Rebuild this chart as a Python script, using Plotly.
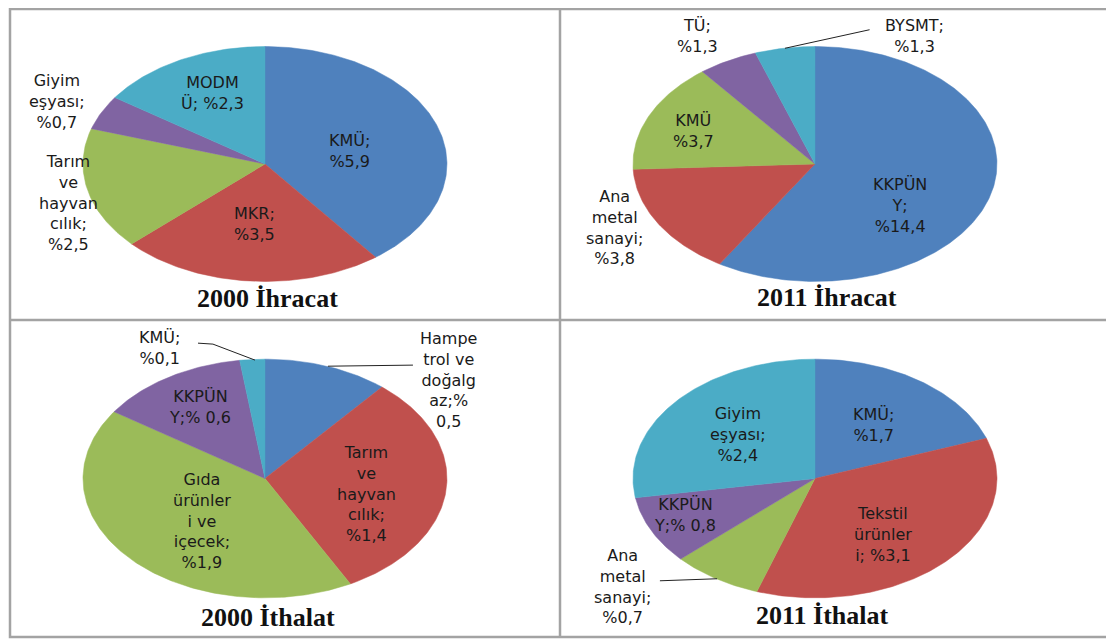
import numpy as np
import plotly.graph_objects as go

# The page body keeps its default 8px margin, so the figure starts at (8, 8)
# of the 1114x639 window; all pixel positions below are window positions.
OFF = 8
W, H = 1114 - OFF, 639 - OFF
COLORS = ["#4F81BD", "#C0504D", "#9BBB59", "#8064A2", "#4BACC6"]
BORDER = "#a3a3a3"
INK = "#1a1a1a"
FONT = "DejaVu Sans"

EXP2000_NAMES = ["KMÜ", "MKR", "Tarım ve hayvancılık", "Giyim eşyası", "MODMÜ"]
EXP2000_VALUES = [5.9, 3.5, 2.5, 0.7, 2.3]
EXP2000_TEXT = ["KMÜ;<br>%5,9", "MKR;<br>%3,5", "Tarım<br>ve<br>hayvan<br>cılık;<br>%2,5",
                "Giyim<br>eşyası;<br>%0,7", "MODM<br>Ü; %2,3"]

EXP2011_NAMES = ["KKPÜNY", "Ana metal sanayi", "KMÜ", "TÜ", "BYSMT"]
EXP2011_VALUES = [14.4, 3.8, 3.7, 1.3, 1.3]
EXP2011_TEXT = ["KKPÜN<br>Y;<br>%14,4", "Ana<br>metal<br>sanayi;<br>%3,8", "KMÜ<br>%3,7",
                "TÜ;<br>%1,3", "BYSMT;<br>%1,3"]

IMP2000_NAMES = ["Hampetrol ve doğalgaz", "Tarım ve hayvancılık", "Gıda ürünleri ve içecek",
                 "KKPÜNY", "KMÜ"]
IMP2000_VALUES = [0.5, 1.4, 1.9, 0.6, 0.1]
IMP2000_TEXT = ["Hampe<br>trol ve<br>doğalg<br>az;%<br>0,5", "Tarım<br>ve<br>hayvan<br>cılık;<br>%1,4",
                "Gıda<br>ürünler<br>i ve<br>içecek;<br>%1,9", "KKPÜN<br>Y;% 0,6", "KMÜ;<br>%0,1"]

IMP2011_NAMES = ["KMÜ", "Tekstil ürünleri", "Ana metal sanayi", "KKPÜNY", "Giyim eşyası"]
IMP2011_VALUES = [1.7, 3.1, 0.7, 0.8, 2.4]
IMP2011_TEXT = ["KMÜ;<br>%1,7", "Tekstil<br>ürünler<br>i; %3,1", "Ana<br>metal<br>sanayi;<br>%0,7",
                "KKPÜN<br>Y;% 0,8", "Giyim<br>eşyası;<br>%2,4"]

TITLES = ["2000 İhracat", "2011 İhracat", "2000 İthalat", "2011 İthalat"]

# --- layout: label anchors and leader lines (axis units, pie radius = 1) ---
LABEL_POS = [
    [(0.467, 0.109), (-0.055, -0.513), (-1.077, -0.336), (-1.143, 0.529), (-0.291, 0.605)],
    [(0.467, -0.353), (-1.104, -0.538), (-0.670, 0.277), (-0.648, 1.092), (0.549, 1.092)],
    [(1.011, 0.824), (0.560, -0.126), (-0.346, -0.353), (-0.357, 0.597), (-0.577, 1.092)],
    [(0.319, 0.445), (0.374, -0.471), (-1.055, -0.908), (-0.714, -0.303), (-0.423, 0.370)],
]
LEADERS = [
    [],
    [[(0.30, 1.143), (-0.165, 0.985)]],
    [[(-0.368, 1.134), (-0.286, 1.126), (-0.055, 0.992)], [(0.813, 0.950), (0.346, 0.941)]],
    [[(-0.852, -0.857), (-0.538, -0.840)]],
]
TITLE_POS = [(0.016, -1.143), (0.066, -1.14), (0.016, -1.168), (0.044, -1.15)]

# panel boxes in window pixels (x0, x1, y_top, y_bottom)
PANELS = [(10, 560, 4, 320), (560, 1110, 4, 320), (10, 560, 320, 637), (560, 1110, 320, 637)]
XR, YR = [-1.401, 1.621], [-1.328, 1.328]

pies = [
    (EXP2000_NAMES, EXP2000_VALUES, EXP2000_TEXT),
    (EXP2011_NAMES, EXP2011_VALUES, EXP2011_TEXT),
    (IMP2000_NAMES, IMP2000_VALUES, IMP2000_TEXT),
    (IMP2011_NAMES, IMP2011_VALUES, IMP2011_TEXT),
]


def px(x):
    return (x - OFF) / W


def py(y):
    return 1 - (y - OFF) / H


fig = go.Figure()
layout_axes = {}
annotations = []
shapes = []

for i, (names, values, texts) in enumerate(pies):
    n = "" if i == 0 else str(i + 1)
    xa, ya = "x" + n, "y" + n
    x0, x1, yt, yb = PANELS[i]
    layout_axes["xaxis" + n] = dict(domain=[max(0, px(x0)), min(1, px(x1))], range=XR,
                                    visible=False, fixedrange=True, anchor=ya)
    layout_axes["yaxis" + n] = dict(domain=[max(0, py(yb)), min(1, py(yt))], range=YR,
                                    visible=False, fixedrange=True, anchor=xa)

    # slices: clockwise from 12 o'clock, like the Excel default
    frac = np.cumsum([0] + list(values)) / sum(values)
    for k, (name, v) in enumerate(zip(names, values)):
        a = np.linspace(frac[k], frac[k + 1], max(4, int(400 * (frac[k + 1] - frac[k])))) * 2 * np.pi
        xs = np.concatenate([[0], np.sin(a), [0]])
        ys = np.concatenate([[0], np.cos(a), [0]])
        fig.add_scatter(x=xs, y=ys, xaxis=xa, yaxis=ya, mode="lines", fill="toself",
                        fillcolor=COLORS[k], line=dict(color=COLORS[k], width=0.5),
                        name=name, hoveron="fills", text=f"{name}: %{v}".replace(".", ","),
                        hoverinfo="text", showlegend=False)

    for pts in LEADERS[i]:
        fig.add_scatter(x=[p[0] for p in pts], y=[p[1] for p in pts], xaxis=xa, yaxis=ya,
                        mode="lines", line=dict(color="#222222", width=1),
                        hoverinfo="skip", showlegend=False)

    for t, (lx, ly) in zip(texts, LABEL_POS[i]):
        annotations.append(dict(x=lx, y=ly, xref=xa, yref=ya, text=t, showarrow=False,
                                font=dict(family=FONT, size=16, color=INK), align="center"))

    tx, ty = TITLE_POS[i]
    annotations.append(dict(x=tx, y=ty, xref=xa, yref=ya, text="<b>" + TITLES[i] + "</b>",
                            showarrow=False,
                            font=dict(family="Liberation Serif", size=26, color="#111111")))

# panel frames (the top edge sits at the figure's first visible row)
shapes.append(dict(type="rect", xref="paper", yref="paper", x0=px(10), x1=px(1110),
                   y0=py(637), y1=py(9), line=dict(color=BORDER, width=2.5)))
shapes.append(dict(type="line", xref="paper", yref="paper", x0=px(560), x1=px(560),
                   y0=py(637), y1=py(9), line=dict(color=BORDER, width=2.5)))
shapes.append(dict(type="line", xref="paper", yref="paper", x0=px(10), x1=px(1110),
                   y0=py(320), y1=py(320), line=dict(color=BORDER, width=2.5)))

fig.update_layout(width=W, height=H, margin=dict(l=0, r=0, t=0, b=0),
                  paper_bgcolor="white", plot_bgcolor="white", showlegend=False,
                  annotations=annotations, shapes=shapes, **layout_axes)

fig.write_html("out.html")
